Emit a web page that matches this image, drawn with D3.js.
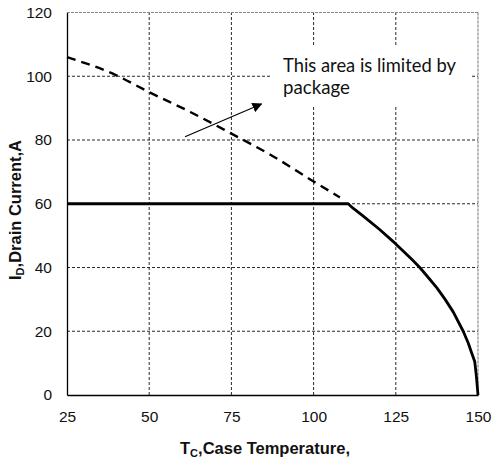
<!DOCTYPE html>
<html>
<head>
<meta charset="utf-8">
<script src="https://cdn.jsdelivr.net/npm/d3@7"></script>
<style>
  html, body { margin: 0; padding: 0; background: #fff; }
  svg { display: block; }
</style>
</head>
<body>
<svg id="chart" width="493" height="461"></svg>
<script>
// ---- data ----
const xTicks = [25, 50, 75, 100, 125, 150];
const yTicks = [0, 20, 40, 60, 80, 100, 120];

// package-limited (dashed) curve
const limitTemp    = [25, 40, 50, 62.5, 75, 87.5, 100, 108];
const limitCurrent = [106, 100.3, 95, 88.8, 82, 75, 67, 62];

// actual drain current (solid) curve
const drainTemp    = [25, 110.5, 112, 115, 120, 125, 130, 132.3, 135, 137.5, 140, 142.5, 145.5, 147, 148, 149, 149.5, 150];
const drainCurrent = [60, 60, 58.6, 56.2, 52, 47.4, 42.4, 40, 36.7, 33.6, 30, 26, 20, 16.4, 13.4, 10.5, 6, 0];

const noteLines = ["This area is limited by", "package"];
const noteWidths = [173, 67];

// ---- chart ----
const svg = d3.select("#chart");
const x = d3.scaleLinear().domain([25, 150]).range([67, 478]);
const y = d3.scaleLinear().domain([0, 120]).range([395, 12.5]);

// grid
const grid = svg.append("g");
grid.selectAll(".vg").data(xTicks.filter(d => d > 25 && d < 150)).join("line")
  .attr("x1", d => x(d)).attr("x2", d => x(d))
  .attr("y1", y(0)).attr("y2", y(120))
  .attr("stroke", "#111").attr("stroke-width", 0.9).attr("stroke-dasharray", "3,2");
grid.selectAll(".hg").data(yTicks.filter(d => d > 0 && d < 120)).join("line")
  .attr("x1", x(25)).attr("x2", x(150))
  .attr("y1", d => y(d)).attr("y2", d => y(d))
  .attr("stroke", "#111").attr("stroke-width", 0.9).attr("stroke-dasharray", "3,2");
// top & right borders
grid.append("line").attr("x1", x(25)).attr("x2", x(150)).attr("y1", y(120)).attr("y2", y(120))
  .attr("stroke", "#888").attr("stroke-width", 1.2).attr("stroke-dasharray", "3,1");
grid.append("line").attr("x1", x(150)).attr("x2", x(150)).attr("y1", y(120)).attr("y2", y(0))
  .attr("stroke", "#888").attr("stroke-width", 1.2).attr("stroke-dasharray", "3,1");

// axes
const xAxis = d3.axisBottom(x).tickValues(xTicks).tickSize(0).tickPadding(16);
const yAxis = d3.axisLeft(y).tickValues(yTicks).tickSize(0).tickPadding(15);
const gx = svg.append("g").attr("transform", `translate(0,${y(0)})`).call(xAxis);
const gy = svg.append("g").attr("transform", `translate(${x(25)},0)`).call(yAxis);
[gx, gy].forEach(g => {
  g.select(".domain").attr("stroke", "#000").attr("stroke-width", 1.3);
  g.selectAll("text").attr("font-family", "Liberation Sans, Arial, sans-serif")
    .attr("font-size", "15.5px").attr("fill", "#111");
});

// curves
svg.append("path")
  .datum(limitTemp.map((t, i) => [t, limitCurrent[i]]))
  .attr("d", d3.line().x(d => x(d[0])).y(d => y(d[1])).curve(d3.curveMonotoneX))
  .attr("fill", "none").attr("stroke", "#000").attr("stroke-width", 2.4)
  .attr("stroke-dasharray", "9,6");
svg.append("path")
  .datum(drainTemp.map((t, i) => [t, drainCurrent[i]]))
  .attr("d", d3.line().x(d => x(d[0])).y(d => y(d[1])).curve(d3.curveLinear))
  .attr("fill", "none").attr("stroke", "#000").attr("stroke-width", 2.8)
  .attr("stroke-linejoin", "round");

// note box
svg.append("rect").attr("x", 270).attr("y", 46).attr("width", 200).attr("height", 61).attr("fill", "#fff");
const note = svg.append("g").attr("font-family", "Lato, Carlito, Calibri, sans-serif").attr("font-size", "19px").attr("fill", "#111");
note.selectAll("text").data(noteLines).join("text")
  .attr("x", 283).attr("y", (d, i) => 71.5 + i * 22)
  .attr("textLength", (d, i) => noteWidths[i]).attr("lengthAdjust", "spacingAndGlyphs")
  .text(d => d);

// arrow
svg.append("defs").append("marker").attr("id", "ah")
  .attr("viewBox", "0 0 10 10").attr("refX", 9).attr("refY", 5)
  .attr("markerWidth", 10).attr("markerHeight", 10).attr("markerUnits", "userSpaceOnUse")
  .attr("orient", "auto")
  .append("path").attr("d", "M0,0 L10,5 L0,10 z").attr("fill", "#000");
svg.append("line").attr("x1", 185).attr("y1", 136.7).attr("x2", 261.5).attr("y2", 104)
  .attr("stroke", "#000").attr("stroke-width", 1.1).attr("marker-end", "url(#ah)");

// axis titles
const xt = svg.append("text").attr("x", 265).attr("y", 453.5).attr("text-anchor", "middle")
  .attr("font-family", "Liberation Sans, Arial, sans-serif").attr("font-weight", "bold")
  .attr("font-size", "16.5px").attr("fill", "#111");
xt.append("tspan").text("T");
xt.append("tspan").attr("font-size", "11px").attr("dy", 3).text("C");
xt.append("tspan").attr("dy", -3).text(",Case Temperature,");

const yt = svg.append("text").attr("transform", "translate(15,210) rotate(-90)").attr("text-anchor", "middle")
  .attr("dy", "0.35em")
  .attr("font-family", "Liberation Sans, Arial, sans-serif").attr("font-weight", "bold")
  .attr("font-size", "16.5px").attr("fill", "#111");
yt.append("tspan").text("I");
yt.append("tspan").attr("font-size", "11px").attr("dy", 3).text("D");
yt.append("tspan").attr("dy", -3).text(",Drain Current,A");
</script>
</body>
</html>
